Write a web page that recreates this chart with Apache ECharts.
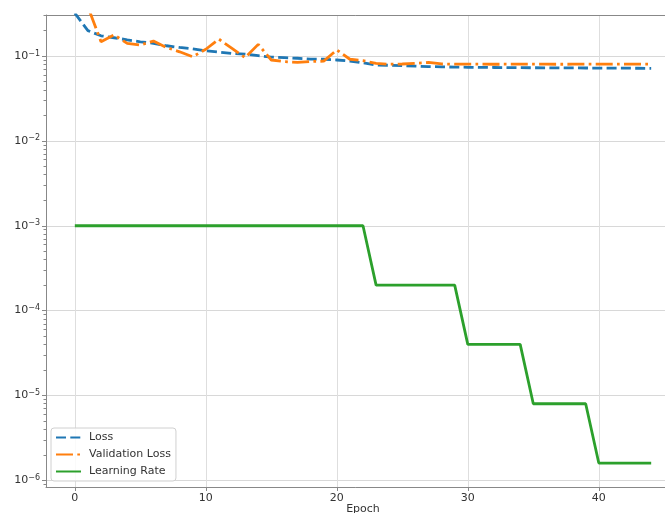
<!DOCTYPE html>
<html>
<head>
<meta charset="utf-8">
<script src="https://cdn.jsdelivr.net/npm/echarts@6/dist/echarts.min.js"></script>
<style>
  html, body { margin: 0; padding: 0; background: #fff; }
  #chart { width: 665px; height: 513px; }
</style>
</head>
<body>
<div id="chart"></div>
<script>
// Training history per epoch
const epochs = [0,1,2,3,4,5,6,7,8,9,10,11,12,13,14,15,16,17,18,19,20,21,22,23,24,25,26,27,28,29,30,31,32,33,34,35,36,37,38,39,40,41,42,43,44];
const loss = [0.32, 0.199, 0.173, 0.164, 0.155, 0.147, 0.141, 0.132, 0.126, 0.121,
  0.115, 0.111, 0.107, 0.105, 0.101, 0.097, 0.0955, 0.094, 0.092, 0.0915,
  0.0897, 0.087, 0.083, 0.078, 0.0777, 0.077, 0.076, 0.075, 0.0745, 0.074,
  0.0736, 0.0734, 0.0732, 0.073, 0.0728, 0.0727, 0.0726, 0.0724, 0.0723, 0.0722,
  0.072, 0.0719, 0.0718, 0.0717, 0.0716];
const valLoss = [0.62, 0.38, 0.147, 0.177, 0.141, 0.135, 0.150, 0.126, 0.112, 0.098,
  0.12, 0.158, 0.123, 0.0955, 0.137, 0.0897, 0.0857, 0.084, 0.086, 0.087,
  0.118, 0.0915, 0.088, 0.082, 0.080, 0.0805, 0.082, 0.084, 0.0805, 0.080,
  0.0800, 0.0801, 0.0799, 0.0800, 0.0801, 0.0800, 0.0800, 0.0799, 0.0800, 0.0800,
  0.0801, 0.0800, 0.0800, 0.0800, 0.0800];
const learningRate = [0.001, 0.001, 0.001, 0.001, 0.001, 0.001, 0.001, 0.001, 0.001, 0.001,
  0.001, 0.001, 0.001, 0.001, 0.001, 0.001, 0.001, 0.001, 0.001, 0.001,
  0.001, 0.001, 0.001, 0.0002, 0.0002, 0.0002, 0.0002, 0.0002, 0.0002, 0.0002,
  0.00004, 0.00004, 0.00004, 0.00004, 0.00004, 0.000008, 0.000008, 0.000008, 0.000008, 0.000008,
  0.0000016, 0.0000016, 0.0000016, 0.0000016, 0.0000016];

// Axis ticks
const xTicks = [0, 10, 20, 30, 40];
const yTicks = [1e-6, 1e-5, 1e-4, 1e-3, 1e-2, 1e-1];
const yMinorTicks = [];
for (let p = -7; p <= -1; p++) {
  for (let m = 2; m <= 9; m++) yMinorTicks.push(m * Math.pow(10, p));
}

const X_MIN = -2.2, X_MAX = 46.2;
const Y_MIN = 8.36e-7, Y_MAX = 0.304;

const FONT = 'DejaVu Sans';
const chart = echarts.init(document.getElementById('chart'), null, { renderer: 'canvas' });

const pairs = arr => epochs.map((e, i) => [e, arr[i]]);
const SPINE = '#888888';

chart.setOption({
  animation: false,
  backgroundColor: '#ffffff',
  textStyle: { fontFamily: FONT },
  grid: {
    left: 46, top: 15, bottom: 26, width: 634,
    outerBoundsMode: 'none',
    containLabel: false,
    show: false
  },
  legend: {
    orient: 'vertical',
    left: 51, top: 428,
    padding: [4, 5, 4, 4],
    itemGap: 6,
    itemWidth: 25,
    itemHeight: 11,
    backgroundColor: 'rgba(255,255,255,0.85)',
    borderColor: '#d0d0d0',
    borderWidth: 1,
    borderRadius: 3,
    itemStyle: { opacity: 0 },
    textStyle: { fontFamily: FONT, fontSize: 11, color: '#333', padding: [0, 0, 0, 3] },
    data: ['Loss', 'Validation Loss', 'Learning Rate']
  },
  xAxis: [
    {
      type: 'value',
      min: X_MIN, max: X_MAX,
      position: 'bottom',
      name: 'Epoch',
      nameLocation: 'middle',
      nameGap: 17,
      nameMoveOverlap: false,
      nameTextStyle: { fontFamily: FONT, fontSize: 11, color: '#333', verticalAlign: 'top' },
      axisLine: { show: true, onZero: false, lineStyle: { color: SPINE, width: 1 } },
      axisTick: { show: true, length: 4, customValues: xTicks, lineStyle: { color: SPINE } },
      axisLabel: { customValues: xTicks, margin: 6, fontFamily: FONT, fontSize: 11, color: '#333' },
      splitLine: { show: true, lineStyle: { color: '#dedede', width: 1 } }
    },
    {
      // top spine
      type: 'value',
      min: X_MIN, max: X_MAX,
      position: 'top',
      axisLine: { show: true, onZero: false, lineStyle: { color: SPINE, width: 1 } },
      axisTick: { show: false },
      axisLabel: { show: false },
      splitLine: { show: false }
    }
  ],
  yAxis: [
    {
      type: 'log',
      logBase: 10,
      min: Y_MIN, max: Y_MAX,
      position: 'left',
      axisLine: { show: true, onZero: false, lineStyle: { color: SPINE, width: 1 } },
      axisTick: { show: true, length: 4, customValues: yTicks, lineStyle: { color: SPINE } },
      axisLabel: {
        customValues: yTicks,
        margin: 6,
        fontFamily: FONT,
        formatter: v => '{b|10}{s|\u2212' + Math.abs(Math.round(Math.log10(v))) + '}',
        rich: {
          b: { fontFamily: FONT, fontSize: 11, color: '#333', lineHeight: 13 },
          s: { fontFamily: FONT, fontSize: 8, color: '#333', verticalAlign: 'top', lineHeight: 9 }
        }
      },
      splitLine: { show: true, lineStyle: { color: '#d8d8d8', width: 1 } }
    },
    {
      // minor ticks at 2..9 x 10^n
      type: 'log',
      logBase: 10,
      min: Y_MIN, max: Y_MAX,
      position: 'left',
      axisLine: { show: false, onZero: false },
      axisTick: { show: true, length: 2.5, customValues: yMinorTicks, lineStyle: { color: SPINE } },
      axisLabel: { show: false },
      splitLine: { show: false }
    }
  ],
  series: [
    {
      name: 'Loss',
      type: 'line',
      data: pairs(loss),
      showSymbol: false,
      symbol: 'none',
      color: '#1f77b4',
      lineStyle: { color: '#1f77b4', width: 2.8, type: [10, 4.3] },
      z: 3
    },
    {
      name: 'Validation Loss',
      type: 'line',
      data: pairs(valLoss),
      showSymbol: false,
      symbol: 'none',
      color: '#ff7f0e',
      lineStyle: { color: '#ff7f0e', width: 2.8, type: [17, 4.3, 2.7, 4.3] },
      z: 4
    },
    {
      name: 'Learning Rate',
      type: 'line',
      data: pairs(learningRate),
      showSymbol: false,
      symbol: 'none',
      color: '#2ca02c',
      lineStyle: { color: '#2ca02c', width: 2.8 },
      z: 5
    }
  ]
});
</script>
</body>
</html>
